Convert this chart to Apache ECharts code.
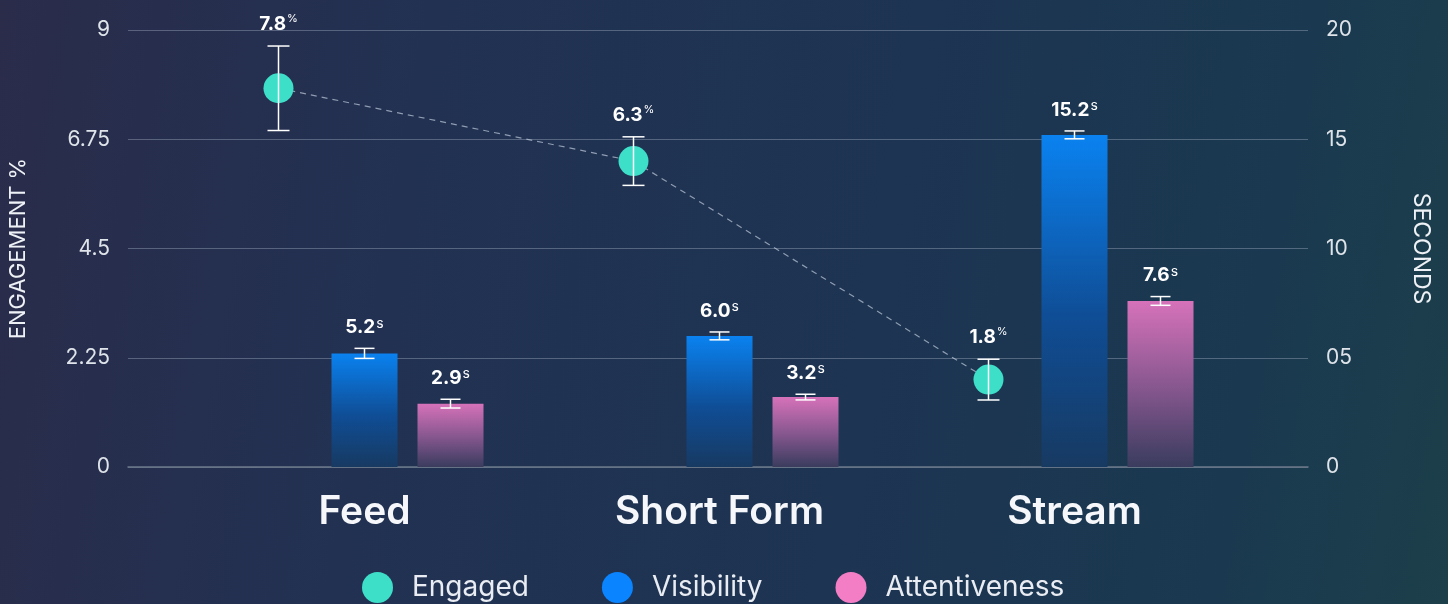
<!DOCTYPE html>
<html>
<head>
<meta charset="utf-8">
<script src="https://cdn.jsdelivr.net/npm/echarts@6/dist/echarts.min.js"></script>
<style>
  html, body { margin: 0; padding: 0; }
  body {
    width: 1448px; height: 604px; overflow: hidden;
    background: linear-gradient(100deg, #2a2c4a 0%, #223152 28%, #1d3452 60%, #1a3950 85%, #1c3f4a 100%);
  }
  #chart { width: 1448px; height: 604px; }
</style>
</head>
<body>
<div id="chart"></div>
<script>
var categories = ['Feed', 'Short Form', 'Stream'];
var engaged = [7.8, 6.3, 1.8];
var engagedErr = [0.87, 0.5, 0.42];
var visibility = [5.2, 6.0, 15.2];
var visibilityErr = [0.23, 0.18, 0.18];
var attentiveness = [2.9, 3.2, 7.6];
var attentivenessErr = [0.2, 0.13, 0.2];
var legendNames = ['Engaged', 'Visibility', 'Attentiveness'];

var teal = '#3ddfc9';
var blue = '#0a84ff';
var pink = '#f47ec6';
var font = 'Inter';

var barW = 66, barGapPx = 20;
var slot = barW + barGapPx;

function labelText(x, y, v, unit) {
  return {
    type: 'text',
    style: {
      text: '{v|' + v.toFixed(1) + '}{u|' + unit + '}',
      x: x, y: y,
      align: 'center', verticalAlign: 'middle',
      fill: '#ffffff',
      rich: {
        v: { fontSize: 19, fontWeight: 'bold', fontFamily: font, color: '#ffffff', lineHeight: 22 },
        u: { fontSize: unit === '%' ? 11 : 14, fontFamily: font, color: '#ffffff', verticalAlign: 'top', lineHeight: 14, padding: [0, 0, 0, 1] }
      }
    }
  };
}

function errorParts(x, top, bot, cap) {
  var ls = { stroke: '#ffffff', lineWidth: 1.5 };
  return [
    { type: 'line', shape: { x1: x, y1: top, x2: x, y2: bot }, style: ls },
    { type: 'line', shape: { x1: x - cap, y1: top, x2: x + cap, y2: top }, style: ls },
    { type: 'line', shape: { x1: x - cap, y1: bot, x2: x + cap, y2: bot }, style: ls }
  ];
}

function barErrors(values, errs, offset) {
  return function(params, api) {
    var i = params.dataIndex;
    var v = values[i], e = errs[i];
    var x = api.coord([i, v])[0] + offset;
    var top = api.coord([i, v + e])[1];
    var bot = api.coord([i, v - e])[1];
    var kids = errorParts(x, top, bot, 10);
    kids.push(labelText(x, top - 21, v, 's'));
    return { type: 'group', children: kids };
  };
}

function engagedItem(params, api) {
  var i = params.dataIndex;
  var v = engaged[i], e = engagedErr[i];
  var c = api.coord([i, v]);
  var x = c[0] - slot, y = c[1];
  var top = api.coord([i, v + e])[1];
  var bot = api.coord([i, v - e])[1];
  var kids = [];
  if (i < engaged.length - 1) {
    var n = api.coord([i + 1, engaged[i + 1]]);
    kids.push({
      type: 'line',
      shape: { x1: x, y1: y, x2: n[0] - slot, y2: n[1] },
      style: { stroke: 'rgba(205,215,230,0.65)', lineWidth: 1.2, lineDash: [6, 5] }
    });
  }
  kids.push({ type: 'circle', shape: { cx: x, cy: y, r: 15 }, style: { fill: teal } });
  kids = kids.concat(errorParts(x, top, bot, 11));
  kids.push(labelText(x, top - 22, v, '%'));
  return { type: 'group', children: kids };
}

var chart = echarts.init(document.getElementById('chart'), null, { renderer: 'canvas' });
chart.setOption({
  animation: false,
  backgroundColor: 'transparent',
  grid: [
    { left: 128, right: 140, top: 30, bottom: 137, outerBoundsMode: 'none' },
    { left: 187, right: 196, top: 30, bottom: 137, outerBoundsMode: 'none' }
  ],
  legend: {
    data: [
      { name: legendNames[0], itemStyle: { color: teal } },
      { name: legendNames[1], itemStyle: { color: blue } },
      { name: legendNames[2], itemStyle: { color: pink } }
    ],
    icon: 'circle',
    itemWidth: 31, itemHeight: 31,
    itemGap: 73,
    top: 567,
    left: 357,
    textStyle: { color: '#e9edf3', fontSize: 28, fontFamily: font, padding: [0, 0, 0, 14] }
  },
  xAxis: [
    {
      gridIndex: 0, type: 'value', min: 0, max: 1,
      axisLine: { show: true, onZero: false, lineStyle: { color: '#6b7889', width: 1.5 } },
      axisTick: { show: false }, axisLabel: { show: false }, splitLine: { show: false }
    },
    {
      gridIndex: 1, type: 'category', data: categories,
      axisLine: { show: false }, axisTick: { show: false },
      axisLabel: { color: '#f5f7fa', fontSize: 39, fontWeight: 600, fontFamily: font, margin: 26 }
    }
  ],
  yAxis: [
    {
      gridIndex: 0, type: 'value', min: 0, max: 9, interval: 2.25, position: 'left',
      name: 'ENGAGEMENT %', nameLocation: 'middle', nameGap: 99, nameRotate: 90,
      nameTextStyle: { color: '#eef1f5', fontSize: 22, fontFamily: font },
      axisLine: { show: false }, axisTick: { show: false },
      axisLabel: { color: '#dfe4ea', fontSize: 21, fontFamily: font, margin: 18 },
      splitLine: { lineStyle: { color: 'rgba(150,165,185,0.45)', width: 1 } }
    },
    {
      gridIndex: 0, type: 'value', min: 0, max: 20, interval: 5, position: 'right',
      name: 'SECONDS', nameLocation: 'middle', nameGap: 101, nameRotate: -90,
      nameTextStyle: { color: '#eef1f5', fontSize: 23, fontFamily: font },
      axisLine: { show: false }, axisTick: { show: false }, splitLine: { show: false },
      axisLabel: {
        color: '#dfe4ea', fontSize: 21, fontFamily: font, margin: 18,
        formatter: function(v) { return v === 0 ? '0' : (v < 10 ? '0' + v : String(v)); }
      }
    },
    { gridIndex: 1, type: 'value', min: 0, max: 9, show: false },
    { gridIndex: 1, type: 'value', min: 0, max: 20, show: false }
  ],
  series: [
    {
      name: 'slot', type: 'bar', xAxisIndex: 1, yAxisIndex: 2,
      data: engaged, barWidth: barW, barGap: (barGapPx / barW * 100) + '%',
      itemStyle: { color: 'rgba(0,0,0,0)' }, silent: true
    },
    {
      name: 'Visibility', type: 'bar', xAxisIndex: 1, yAxisIndex: 3,
      data: visibility, barWidth: barW, barGap: (barGapPx / barW * 100) + '%',
      itemStyle: {
        color: new echarts.graphic.LinearGradient(0, 0, 0, 1, [
          { offset: 0, color: '#0a82f0' },
          { offset: 0.55, color: '#0f4d95' },
          { offset: 1, color: '#173a62' }
        ])
      }
    },
    {
      name: 'Attentiveness', type: 'bar', xAxisIndex: 1, yAxisIndex: 3,
      data: attentiveness, barWidth: barW, barGap: (barGapPx / barW * 100) + '%',
      itemStyle: {
        color: new echarts.graphic.LinearGradient(0, 0, 0, 1, [
          { offset: 0, color: '#d672b9' },
          { offset: 0.5, color: '#8a5891' },
          { offset: 1, color: '#3a3c5e' }
        ])
      }
    },
    {
      name: 'Visibility', type: 'custom', xAxisIndex: 1, yAxisIndex: 3,
      data: visibility.map(function(v, i) { return [i, v]; }),
      renderItem: barErrors(visibility, visibilityErr, 0), z: 5
    },
    {
      name: 'Attentiveness', type: 'custom', xAxisIndex: 1, yAxisIndex: 3,
      data: attentiveness.map(function(v, i) { return [i, v]; }),
      renderItem: barErrors(attentiveness, attentivenessErr, slot), z: 5
    },
    {
      name: 'Engaged', type: 'custom', xAxisIndex: 1, yAxisIndex: 2,
      itemStyle: { color: teal },
      data: engaged.map(function(v, i) { return [i, v]; }),
      renderItem: engagedItem, z: 6
    }
  ]
});
window.addEventListener('resize', function() { chart.resize(); });
</script>
</body>
</html>
